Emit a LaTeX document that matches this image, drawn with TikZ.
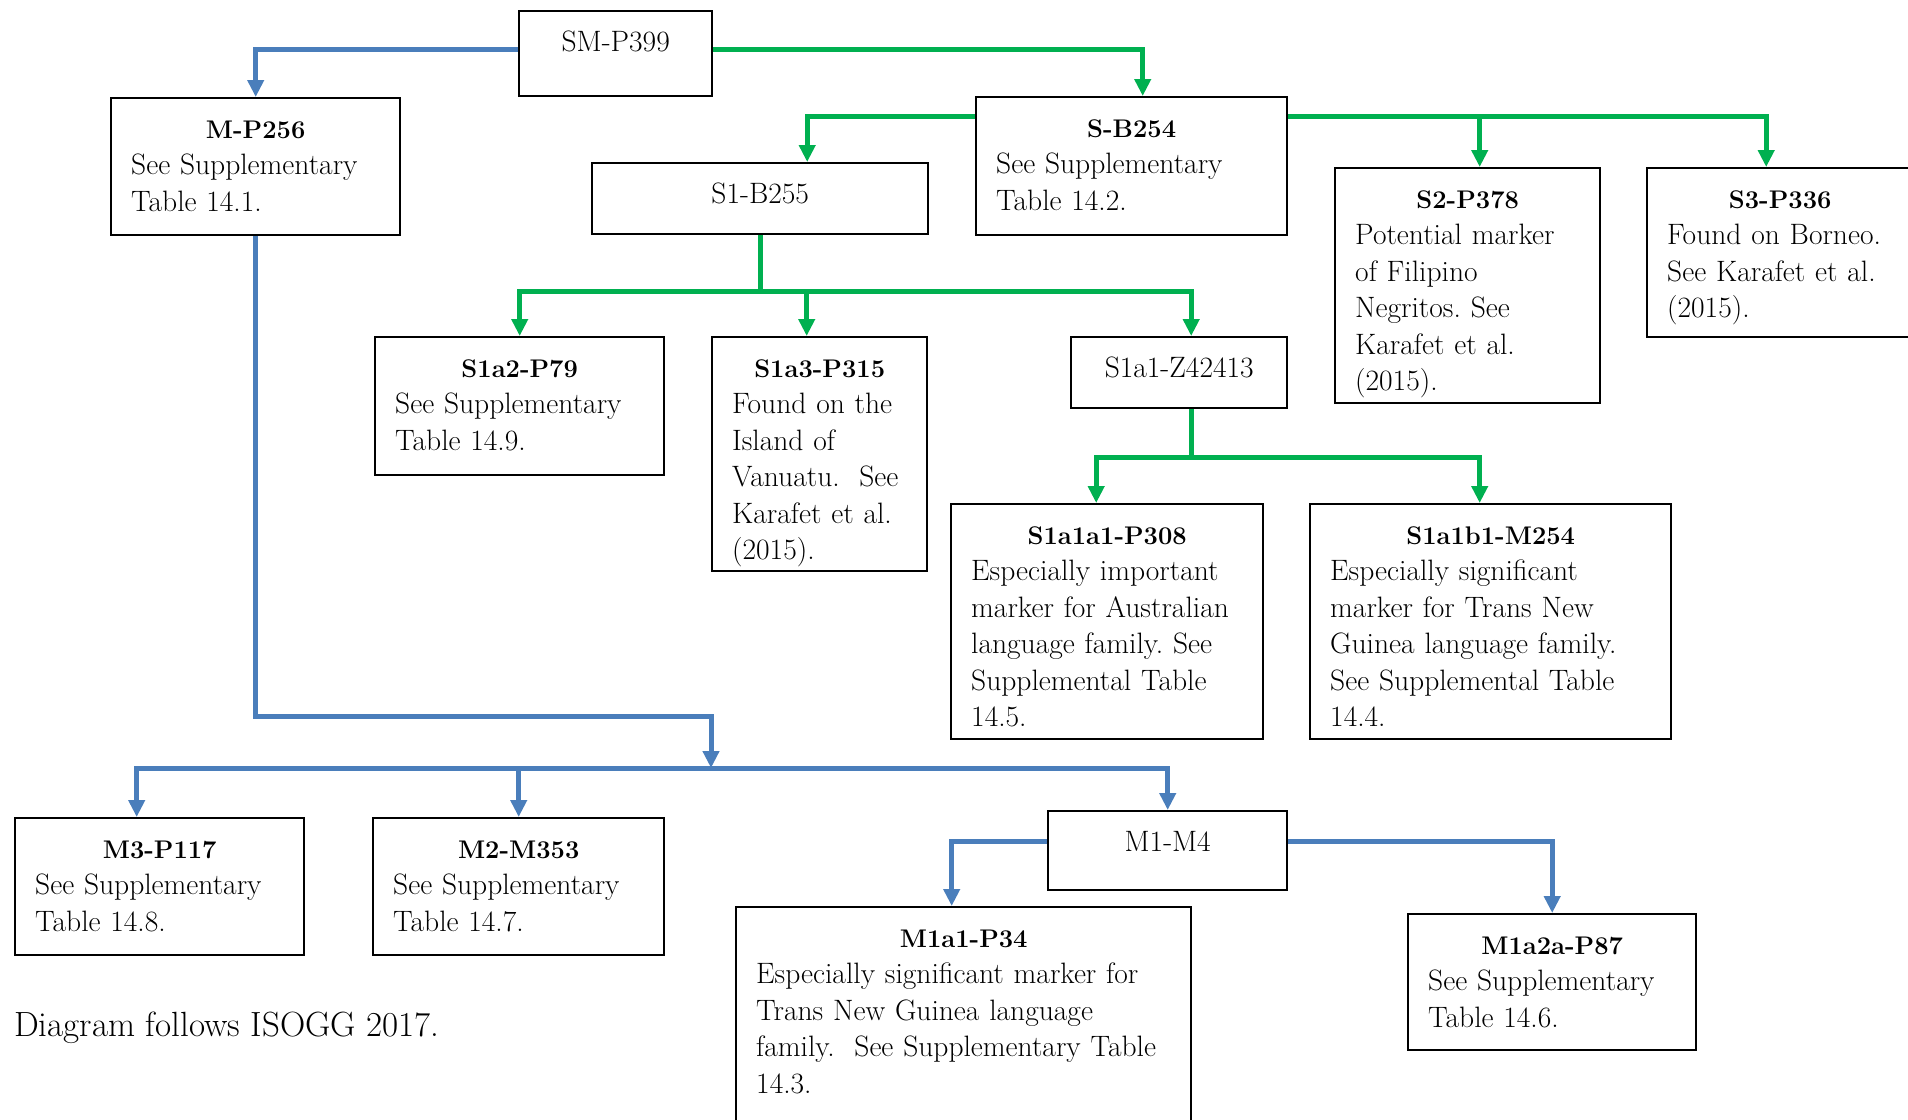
\documentclass[tikz,border=0pt]{standalone}
\usepackage{fontspec}
\usepackage{tikz}
\usetikzlibrary{arrows.meta}

\definecolor{mblue}{HTML}{4A7EBB}
\definecolor{sgreen}{HTML}{00B050}

\frenchspacing
\newcommand{\marker}[1]{\makebox[\linewidth]{\fontsize{25.5}{36.5}\selectfont\textbf{#1}}\\}

\begin{document}
\begin{tikzpicture}[
    x=1pt, y=-1pt,
    >={Triangle[width=16pt,length=17pt]},
    tbox/.style={draw, line width=2.4pt, anchor=north west, align=left,
inner xsep=20pt, inner ysep=0pt, text height=40pt,
font=\fontsize{29.5}{36.5}\selectfont},
    lbox/.style={tbox, align=center},
    blink/.style={->, draw=mblue, line width=5pt},
    glink/.style={->, draw=sgreen, line width=5pt}]

    \useasboundingbox (0,0) rectangle (1908,1119);
    \clip (0,0) rectangle (1908,1119);

    % top
    \node[lbox, text width=153pt, text depth=45pt] (sm) at (518,10) {SM-P399};
    \node[tbox, text width=249pt, text depth=97pt] (mp256) at (110,97)
        {\marker{M-P256}See Supplementary\\Table 14.1.};
    \node[tbox, text width=271pt, text depth=98pt] (sb254) at (975,96)
        {\marker{S-B254}See Supplementary\\Table 14.2.};

    % S branch
    \node[lbox, text width=296pt, text depth=31pt] (s1b255) at (591,162) {S1-B255};
    \node[tbox, text width=225pt, text depth=195pt] (s2p378) at (1334,167)
        {\marker{S2-P378}Potential marker\\of Filipino\\Negritos. See\\Karafet et al.\\(2015).};
    \node[tbox, text width=226pt, text depth=129pt] (s3p336) at (1646,167)
        {\marker{S3-P336}Found on Borneo.\\See Karafet et al.\\(2015).};
        \node[tbox, text width=249pt, text depth=98pt] (s1a2) at (374,336)
            {\marker{S1a2-P79}See Supplementary\\Table 14.9.};
        \node[tbox, text width=175pt, text depth=194pt] (s1a3) at (711,336)
            {\marker{S1a3-P315}Found on the\\Island of\\Vanuatu.\ \ See\\Karafet et al.\\(2015).};
        \node[lbox, text width=176pt, text depth=31pt] (s1a1z) at (1070,336) {S1a1-Z42413};
            \node[tbox, text width=272pt, text depth=195pt] (s1a1a1) at (950,503)
                {\marker{S1a1a1-P308}Especially important\\marker for Australian\\language family. See\\Supplemental Table\\14.5.};
            \node[tbox, text width=321pt, text depth=195pt] (s1a1b1) at (1309,503)
                {\marker{S1a1b1-M254}Especially significant\\marker for Trans New\\Guinea language family.\\See Supplemental Table\\14.4.};

    % M branch
    \node[tbox, text width=249pt, text depth=97pt] (m3) at (14,817)
        {\marker{M3-P117}See Supplementary\\Table 14.8.};
    \node[tbox, text width=251pt, text depth=97pt] (m2) at (372,817)
        {\marker{M2-M353}See Supplementary\\Table 14.7.};
    \node[lbox, text width=199pt, text depth=39pt] (m1m4) at (1047,810) {M1-M4};
        \node[tbox, text width=415pt, text depth=220pt] (m1a1) at (735,906)
            {\marker{M1a1-P34}Especially significant marker for\\Trans New Guinea language\\family.\ \ See Supplementary Table\\14.3.};
        \node[tbox, text width=248pt, text depth=96pt] (m1a2a) at (1407,913)
            {\marker{M1a2a-P87}See Supplementary\\Table 14.6.};

    \node[anchor=base west, inner sep=0pt, font=\fontsize{35}{40}\selectfont] (note) at (14,1036)
        {Diagram follows ISOGG 2017.};

    \coordinate (mjoin) at (711,768);

    % connectors
    \draw[blink] ([yshift=4pt]sm.west) -| (mp256.north);
    \draw[glink] ([yshift=4pt]sm.east) -| ([xshift=11pt]sb254.north);
    \draw[glink] ([yshift=50pt]sb254.west) -| ([xshift=47pt]s1b255.north);
    \draw[glink] ([yshift=50pt]sb254.east) -| ([xshift=12pt]s2p378.north);
    \draw[glink] ([yshift=50pt]sb254.east) -| ([xshift=-14pt]s3p336.north);
    \draw[glink] (s1b255.south) -- ++(0,56) -| (s1a2.north);
    \draw[glink] (s1b255.south) -- ++(0,56) -| ([xshift=-13pt]s1a3.north);
    \draw[glink] (s1b255.south) -- ++(0,56) -| ([xshift=12pt]s1a1z.north);
    \draw[glink] ([xshift=12pt]s1a1z.south) -- ++(0,48) -| ([xshift=-11pt]s1a1a1.north);
    \draw[glink] ([xshift=12pt]s1a1z.south) -- ++(0,48) -| ([xshift=-11pt]s1a1b1.north);

    \draw[blink] (mp256.south) -- ++(0,480) -| (mjoin);
    \draw[blink] (mjoin) -| ([xshift=-23pt]m3.north);
    \draw[blink] (mjoin) -| (m1m4.north);
    \draw[blink] (m2.north |- mjoin) -- (m2.north);
    \draw[blink] ([yshift=9pt]m1m4.west) -| ([xshift=-12pt]m1a1.north);
    \draw[blink] ([yshift=9pt]m1m4.east) -| (m1a2a.north);

\end{tikzpicture}
\end{document}
